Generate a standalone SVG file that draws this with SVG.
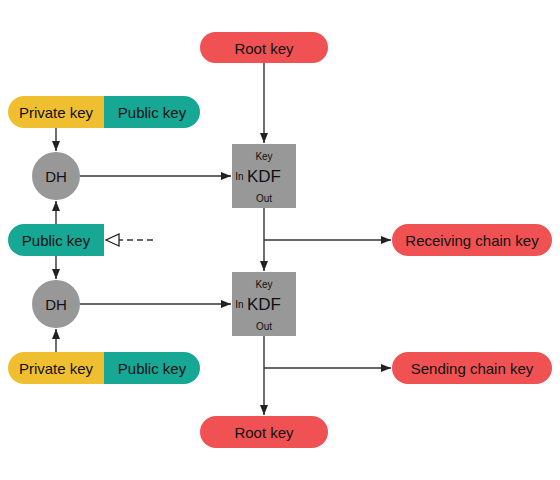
<svg xmlns="http://www.w3.org/2000/svg" width="560" height="480" viewBox="0 0 560 480">
<defs>
<marker id="arr" markerWidth="12" markerHeight="10" refX="10" refY="5" orient="auto" markerUnits="userSpaceOnUse">
<path d="M0,1 L10,5 L0,9 Z" fill="#222"/>
</marker>
<marker id="open" markerWidth="16" markerHeight="14" refX="14" refY="7" orient="auto" markerUnits="userSpaceOnUse">
<path d="M1,1 L14,7 L1,13 Z" fill="#fff" stroke="#222" stroke-width="1.3"/>
</marker>
</defs>
<style>
.red{fill:#F05253}
.yel{fill:#F0BF30}
.teal{fill:#16A795}
.gray{fill:#989898}
.t{font-family:"Liberation Sans",Arial,sans-serif;font-size:15px;fill:#111;text-anchor:middle;dominant-baseline:central}
.kdf{font-family:"Liberation Sans",Arial,sans-serif;font-size:17px;fill:#111;text-anchor:middle;dominant-baseline:central}
.s{font-family:"Liberation Sans",Arial,sans-serif;font-size:10px;fill:#111;text-anchor:middle;dominant-baseline:central}
.c{fill:none;stroke:#333;stroke-width:1.4}
</style>
<rect width="560" height="480" fill="#fff"/>
<g id="connectors">
<path class="c" d="M264,63 V143" marker-end="url(#arr)"/>
<path class="c" d="M80,176 H231" marker-end="url(#arr)"/>
<path class="c" d="M264,208 V271" marker-end="url(#arr)"/>
<path class="c" d="M264,240 H391" marker-end="url(#arr)"/>
<path class="c" d="M80,304 H231" marker-end="url(#arr)"/>
<path class="c" d="M264,336 V415" marker-end="url(#arr)"/>
<path class="c" d="M264,368 H391" marker-end="url(#arr)"/>
<path class="c" d="M56,128 V151" marker-end="url(#arr)"/>
<path class="c" d="M56,224 V201" marker-end="url(#arr)"/>
<path class="c" d="M56,256 V279" marker-end="url(#arr)"/>
<path class="c" d="M56,352 V329" marker-end="url(#arr)"/>
<path class="c" d="M153,240 H106" stroke-dasharray="6,4" marker-end="url(#open)"/>
</g>
<g id="root-key-top">
<rect class="red" x="200" y="32" width="128" height="31" rx="15.5"/>
<text class="t" x="264" y="48">Root key</text>
</g>
<g id="kdf1">
<rect class="gray" x="232" y="144" width="64" height="64"/>
<text class="s" x="264" y="156">Key</text>
<text class="s" x="239.500" y="176">In</text>
<text class="kdf" x="264" y="176">KDF</text>
<text class="s" x="264" y="198">Out</text>
</g>
<g id="receiving-chain-key">
<rect class="red" x="392" y="224" width="160" height="32" rx="16"/>
<text class="t" x="472" y="240">Receiving chain key</text>
</g>
<g id="keypair-top">
<path class="yel" d="M104,96 H24 A16,16 0 0 0 24,128 H104 Z"/>
<path class="teal" d="M104,96 H184 A16,16 0 0 1 184,128 H104 Z"/>
<text class="t" x="56" y="112">Private key</text>
<text class="t" x="152" y="112">Public key</text>
</g>
<g id="dh1">
<circle class="gray" cx="56" cy="176" r="24"/>
<text class="t" x="56" y="176">DH</text>
</g>
<g id="public-key-mid">
<path class="teal" d="M104,224 H24 A16,16 0 0 0 24,256 H104 Z"/>
<text class="t" x="56" y="240">Public key</text>
</g>
<g id="dh2">
<circle class="gray" cx="56" cy="304" r="24"/>
<text class="t" x="56" y="304">DH</text>
</g>
<g id="kdf2">
<rect class="gray" x="232" y="272" width="64" height="64"/>
<text class="s" x="264" y="284">Key</text>
<text class="s" x="239.500" y="304">In</text>
<text class="kdf" x="264" y="304">KDF</text>
<text class="s" x="264" y="326">Out</text>
</g>
<g id="keypair-bottom">
<path class="yel" d="M104,352 H24 A16,16 0 0 0 24,384 H104 Z"/>
<path class="teal" d="M104,352 H184 A16,16 0 0 1 184,384 H104 Z"/>
<text class="t" x="56" y="368">Private key</text>
<text class="t" x="152" y="368">Public key</text>
</g>
<g id="sending-chain-key">
<rect class="red" x="392" y="352" width="160" height="32" rx="16"/>
<text class="t" x="472" y="368">Sending chain key</text>
</g>
<g id="root-key-bottom">
<rect class="red" x="200" y="416" width="128" height="32" rx="16"/>
<text class="t" x="264" y="432">Root key</text>
</g>
</svg>
